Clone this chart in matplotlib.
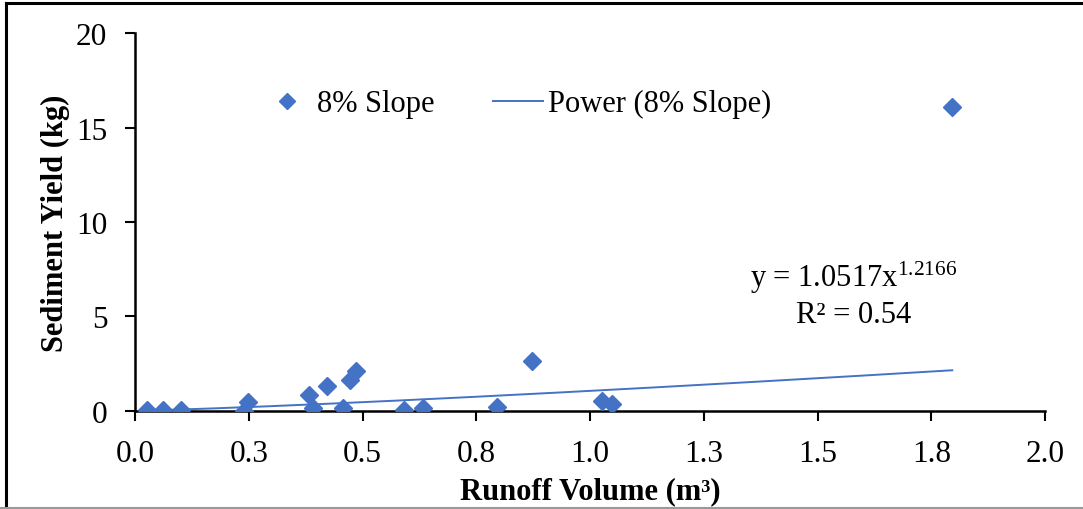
import numpy as np
import matplotlib
matplotlib.use("Agg")
import matplotlib.pyplot as plt
from matplotlib.lines import Line2D

plt.rcParams['font.family'] = ['Liberation Serif', 'DejaVu Serif']
plt.rcParams['mathtext.fontset'] = 'custom'
plt.rcParams['mathtext.rm'] = 'Liberation Serif'
plt.rcParams['mathtext.it'] = 'Liberation Serif:italic'
plt.rcParams['mathtext.bf'] = 'Liberation Serif:bold'

# runoff volume (m3) and sediment yield (kg), 8% slope
runoff = [0.026, 0.061, 0.101, 0.240, 0.249, 0.383, 0.392, 0.421, 0.456,
          0.473, 0.485, 0.592, 0.632, 0.795, 0.873, 1.026, 1.048, 1.796]
sediment = [0.02, 0.02, 0.04, 0.01, 0.48, 0.83, 0.13, 1.32, 0.14,
            1.64, 2.12, 0.02, 0.14, 0.21, 2.62, 0.53, 0.36, 16.1]

# power trendline y = a * x^b
fit_a = 1.0517
fit_b = 1.2166
r2 = 0.54

x_ticks = [0.0, 0.25, 0.5, 0.75, 1.0, 1.25, 1.5, 1.75, 2.0]
x_ticklabels = ['0.0', '0.3', '0.5', '0.8', '1.0', '1.3', '1.5', '1.8', '2.0']
y_ticks = [0, 5, 10, 15, 20]

blue = '#4472C4'

fig = plt.figure(figsize=(10.83, 5.10), dpi=100)
ax = fig.add_axes([0.1247, 0.1927, 0.8403, 0.74])

ax.plot(runoff, sediment, linestyle='none', marker='D', markersize=9.5,
        color=blue, label='8% Slope', zorder=3)

xf = np.linspace(min(runoff), max(runoff), 200)
ax.plot(xf, fit_a * xf ** fit_b, color=blue, linewidth=1.4,
        label='Power (8% Slope)', zorder=2)

ax.set_xlim(0, 2.0)
ax.set_ylim(0, 20)
ax.set_xticks(x_ticks)
ax.set_xticklabels(x_ticklabels)
ax.set_yticks(y_ticks)
ax.tick_params(axis='both', labelsize=22.5, direction='out', length=7,
               width=1.5, colors='black')
ax.tick_params(axis='x', pad=13)
ax.tick_params(axis='y', pad=13)

for s in ['top', 'right']:
    ax.spines[s].set_visible(False)
for s in ['left', 'bottom']:
    ax.spines[s].set_linewidth(1.8)

ax.set_xlabel('Runoff Volume (m³)', fontsize=22, fontweight='bold', labelpad=6)
ax.set_ylabel('Sediment Yield (kg)', fontsize=22, fontweight='bold', labelpad=4)

ax.legend(loc='center', bbox_to_anchor=(0.419, 0.813), ncol=2, frameon=False,
          fontsize=22, markerscale=0.9, handlelength=1.65, columnspacing=1.9,
          handletextpad=0.15, borderpad=0, borderaxespad=0)

ax.text(1.58, 7.1, 'y = 1.0517x$^{\\mathrm{1.2166}}$', fontsize=22,
        ha='center', va='center')
ax.text(1.58, 5.1, 'R² = %.2f' % r2, fontsize=22, ha='center', va='center')

# figure border
fig.add_artist(Line2D([0.0055, 1.0], [0.992, 0.992], color='black', lw=2.2))
fig.add_artist(Line2D([0.0055, 0.0055], [0.0, 0.992], color='black', lw=2.2))
fig.add_artist(Line2D([0.0, 1.0], [0.002, 0.002], color='#999999', lw=1.5))

fig.savefig('out.png', dpi=100)
